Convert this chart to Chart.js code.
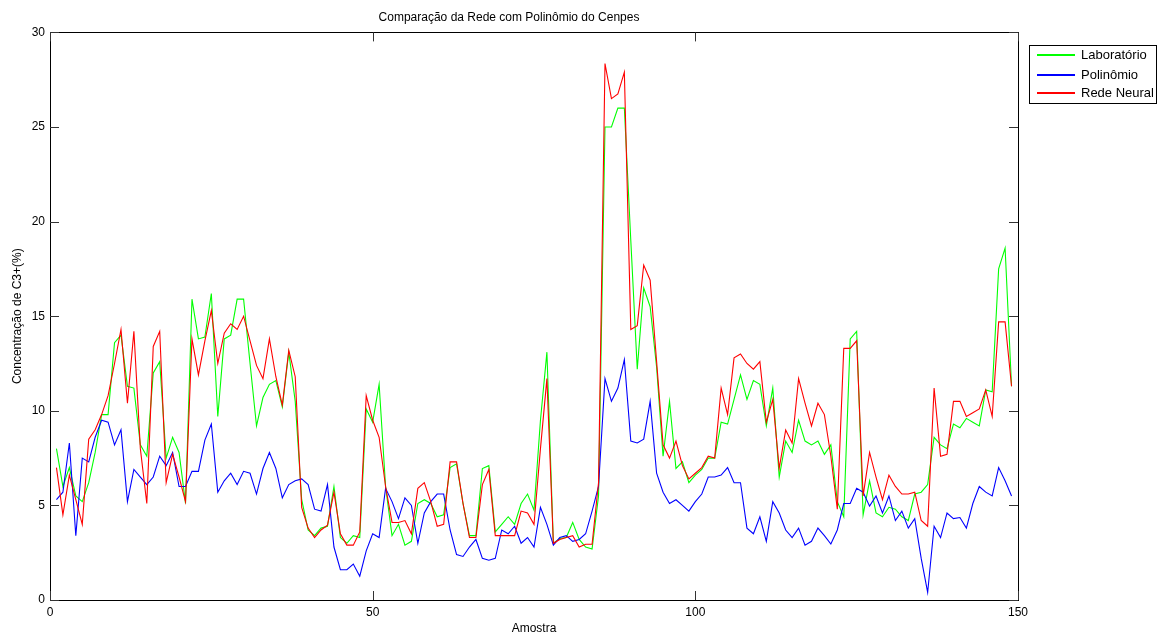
<!DOCTYPE html>
<html>
<head>
<meta charset="utf-8">
<title>Comparação da Rede com Polinômio do Cenpes</title>
<script src="https://cdn.jsdelivr.net/npm/chart.js@4.4.1/dist/chart.umd.min.js"></script>
<style>
  html, body { margin: 0; padding: 0; background: #fff; }
  #myChart { display: block; }
</style>
</head>
<body>
<canvas id="myChart" width="1158" height="634"></canvas>
<script>
// valores (amostras 1..149)
const laboratorio = [
  8.0, 6.0, 7.0, 5.5, 5.2, 6.2, 7.8, 9.8, 9.8, 13.6,
  14.0, 11.3, 11.2, 8.2, 7.6, 12.0, 12.6, 7.5, 8.6, 7.8,
  5.1, 15.9, 13.8, 13.9, 16.2, 9.7, 13.8, 14.0, 15.9, 15.9,
  12.5, 9.2, 10.7, 11.4, 11.6, 10.2, 13.1, 10.5, 5.3, 3.7,
  3.4, 3.8, 3.9, 6.0, 3.3, 3.0, 3.4, 3.3, 10.1, 9.4,
  11.4, 6.0, 3.4, 4.0, 2.9, 3.1, 5.1, 5.3, 5.1, 4.4,
  4.5, 7.0, 7.2, 5.1, 3.4, 3.4, 6.95, 7.1, 3.6, 4.0,
  4.4, 4.0, 5.1, 5.6, 4.75, 9.5, 13.1, 3.0, 3.25, 3.3,
  4.1, 3.2, 2.8, 2.7, 5.5, 25.0, 25.0, 26.0, 26.0, 19.0,
  12.2, 16.5, 15.5, 12.3, 7.6, 10.5, 6.95, 7.3, 6.2, 6.6,
  6.9, 7.5, 7.5, 9.4, 9.3, 10.6, 11.9, 10.6, 11.6, 11.4,
  9.2, 11.2, 6.5, 8.4, 7.8, 9.5, 8.4, 8.2, 8.4, 7.7,
  8.2, 5.2, 4.4, 13.8, 14.2, 4.5, 6.3, 4.6, 4.4, 4.9,
  4.8, 4.4, 4.2, 5.6, 5.7, 6.1, 8.6, 8.2, 8.0, 9.3,
  9.1, 9.6, 9.4, 9.2, 11.1, 11.0, 17.5, 18.6, 11.3
];

const polinomio = [
  5.3, 5.7, 8.3, 3.4, 7.5, 7.3, 8.6, 9.5, 9.4, 8.2,
  9.0, 5.2, 6.9, 6.5, 6.1, 6.5, 7.6, 7.1, 7.8, 6.0,
  6.0, 6.8, 6.8, 8.45, 9.3, 5.7, 6.3, 6.7, 6.1, 6.8,
  6.7, 5.6, 6.95, 7.8, 6.95, 5.4, 6.1, 6.3, 6.4, 6.1,
  4.8, 4.7, 6.1, 2.8, 1.6, 1.6, 1.9, 1.26, 2.6, 3.5,
  3.3, 5.9, 5.2, 4.3, 5.4, 5.0, 3.0, 4.6, 5.2, 5.6,
  5.6, 3.7, 2.4, 2.3, 2.8, 3.2, 2.2, 2.1, 2.2, 3.7,
  3.5, 3.9, 3.0, 3.3, 2.8, 4.9, 4.0, 2.9, 3.3, 3.4,
  3.1, 3.2, 3.5, 4.7, 6.0, 11.7, 10.5, 11.2, 12.7, 8.4,
  8.3, 8.5, 10.5, 6.7, 5.7, 5.1, 5.3, 5.0, 4.7, 5.2,
  5.6, 6.5, 6.5, 6.6, 7.0, 6.2, 6.2, 3.8, 3.5, 4.4,
  3.1, 5.2, 4.6, 3.7, 3.3, 3.8, 2.9, 3.1, 3.8, 3.4,
  2.96, 3.7, 5.1, 5.1, 5.9, 5.7, 4.96, 5.5, 4.6, 5.5,
  4.2, 4.7, 3.8, 4.3, 2.2, 0.4, 3.9, 3.3, 4.6, 4.3,
  4.36, 3.8, 5.1, 6.0, 5.7, 5.5, 7.0, 6.3, 5.5
];

const redeNeural = [
  7.0, 4.5, 6.6, 5.3, 4.0, 8.5, 9.0, 9.8, 10.8, 12.5,
  14.3, 10.4, 14.2, 8.0, 5.1, 13.4, 14.2, 6.2, 7.7, 6.5,
  5.2, 13.8, 11.9, 13.7, 15.3, 12.5, 14.1, 14.6, 14.3, 15.0,
  13.7, 12.4, 11.7, 13.8, 11.8, 10.3, 13.2, 11.8, 4.9, 3.8,
  3.3, 3.7, 3.96, 5.7, 3.5, 2.9, 2.9, 3.6, 10.8, 9.5,
  8.6, 6.0, 4.1, 4.1, 4.2, 3.5, 5.9, 6.2, 5.2, 3.9,
  4.0, 7.3, 7.3, 5.1, 3.3, 3.3, 6.1, 6.9, 3.4, 3.4,
  3.4, 3.4, 4.7, 4.6, 4.0, 8.0, 11.7, 3.0, 3.2, 3.3,
  3.4, 2.8, 2.95, 2.95, 6.2, 28.35, 26.5, 26.75, 27.9, 14.3,
  14.5, 17.7, 16.9, 12.6, 8.2, 7.5, 8.4, 7.1, 6.4, 6.7,
  7.0, 7.6, 7.5, 11.2, 9.8, 12.8, 13.0, 12.5, 12.2, 12.6,
  9.4, 10.6, 6.96, 8.98, 8.3, 11.7, 10.4, 9.2, 10.4, 9.8,
  7.6, 4.8, 13.3, 13.3, 13.7, 5.5, 7.8, 6.5, 5.3, 6.6,
  6.0, 5.6, 5.6, 5.7, 4.2, 3.9, 11.2, 7.6, 7.7, 10.5,
  10.5, 9.7, 9.9, 10.1, 11.1, 9.7, 14.7, 14.7, 11.3
];

const seriesLabels = ['Laboratório', 'Polinômio', 'Rede Neural'];
const seriesColors = ['#00ff00', '#0000ff', '#ff0000'];

const xTicks = [0, 50, 100, 150];
const yTicks = [0, 5, 10, 15, 20, 25, 30];

const FONT = '"Liberation Sans", Arial, Helvetica, sans-serif';

// número da amostra -> {x, y}
function toPoints(values) {
  return values.map((v, i) => ({ x: i + 1, y: v }));
}

// caixa do eixo + ticks para dentro (estilo MATLAB) + legenda com borda
const boxPlugin = {
  id: 'boxPlugin',
  afterDraw(chart) {
    const ctx = chart.ctx;
    const a = chart.chartArea;
    const xs = chart.scales.x;
    const ys = chart.scales.y;
    const len = 9;
    ctx.save();
    ctx.strokeStyle = '#000';
    ctx.lineWidth = 1;
    ctx.strokeRect(Math.round(a.left) + 0.5, Math.round(a.top) + 0.5,
      Math.round(a.right - a.left), Math.round(a.bottom - a.top));
    ctx.strokeStyle = '#333';
    ctx.beginPath();
    xTicks.forEach(t => {
      const px = Math.round(xs.getPixelForValue(t)) + 0.5;
      ctx.moveTo(px, a.bottom); ctx.lineTo(px, a.bottom - len);
      ctx.moveTo(px, a.top); ctx.lineTo(px, a.top + len);
    });
    yTicks.forEach(t => {
      const py = Math.round(ys.getPixelForValue(t)) + 0.5;
      ctx.moveTo(a.left, py); ctx.lineTo(a.left + len, py);
      ctx.moveTo(a.right, py); ctx.lineTo(a.right - len, py);
    });
    ctx.stroke();

    const lx = 1029, ly = 45, lw = 128, lh = 59;
    ctx.fillStyle = '#fff';
    ctx.fillRect(lx, ly, lw, lh);
    ctx.strokeStyle = '#000';
    ctx.strokeRect(lx + 0.5, ly + 0.5, lw - 1, lh - 1);
    ctx.font = '13px ' + FONT;
    ctx.textBaseline = 'middle';
    ctx.textAlign = 'left';
    seriesLabels.forEach((label, i) => {
      const row = [54, 74, 92][i];   // linhas de 2px em linha par
      ctx.fillStyle = seriesColors[i];
      ctx.fillRect(lx + 8, row, 38, 2);
      ctx.fillStyle = '#000';
      ctx.fillText(label, lx + 52, row + 1);
    });
    ctx.restore();
  }
};

function chart() {
  const ctx = document.getElementById('myChart').getContext('2d');

  const values = [laboratorio, polinomio, redeNeural];
  const data = {
    datasets: values.map((vals, i) => ({
      label: seriesLabels[i],
      data: toPoints(vals),
      borderColor: seriesColors[i],
      backgroundColor: seriesColors[i],
      order: 3 - i,           // rede neural por cima
      borderWidth: 1.1,
      pointRadius: 0,
      fill: false,
      tension: 0
    }))
  };

  const config = {
    type: 'line',
    data: data,
    options: {
      responsive: false,
      animation: false,
      layout: { padding: { left: 0, right: 140, top: 0, bottom: 0 } },
      plugins: {
        legend: { display: false },
        tooltip: { enabled: false },
        title: {
          display: true,
          text: 'Comparação da Rede com Polinômio do Cenpes',
          color: '#000',
          font: { family: FONT, size: 12, weight: 'normal' },
          padding: { top: 10, bottom: 8 }
        }
      },
      scales: {
        x: {
          type: 'linear',
          min: 0,
          max: 150,
          afterBuildTicks: (s) => { s.ticks = xTicks.map(v => ({ value: v })); },
          afterFit: (s) => { s.height = 34; },
          grid: { display: false, drawTicks: false },
          border: { display: false },
          ticks: { color: '#000', padding: 5, font: { family: FONT, size: 12 } },
          title: {
            display: true,
            text: 'Amostra',
            color: '#000',
            font: { family: FONT, size: 12 },
            padding: { top: 0, bottom: -2 }
          }
        },
        y: {
          min: 0,
          max: 30,
          afterBuildTicks: (s) => { s.ticks = yTicks.map(v => ({ value: v })); },
          afterFit: (s) => { s.width = 50; },
          grid: { display: false, drawTicks: false },
          border: { display: false },
          ticks: { color: '#000', padding: 5, font: { family: FONT, size: 12 } },
          title: {
            display: true,
            text: 'Concentração de C3+(%)',
            color: '#000',
            font: { family: FONT, size: 12 },
            padding: { top: 10, bottom: 0 }
          }
        }
      }
    },
    plugins: [boxPlugin]
  };
  new Chart(ctx, config);
}

chart();
</script>
</body>
</html>
